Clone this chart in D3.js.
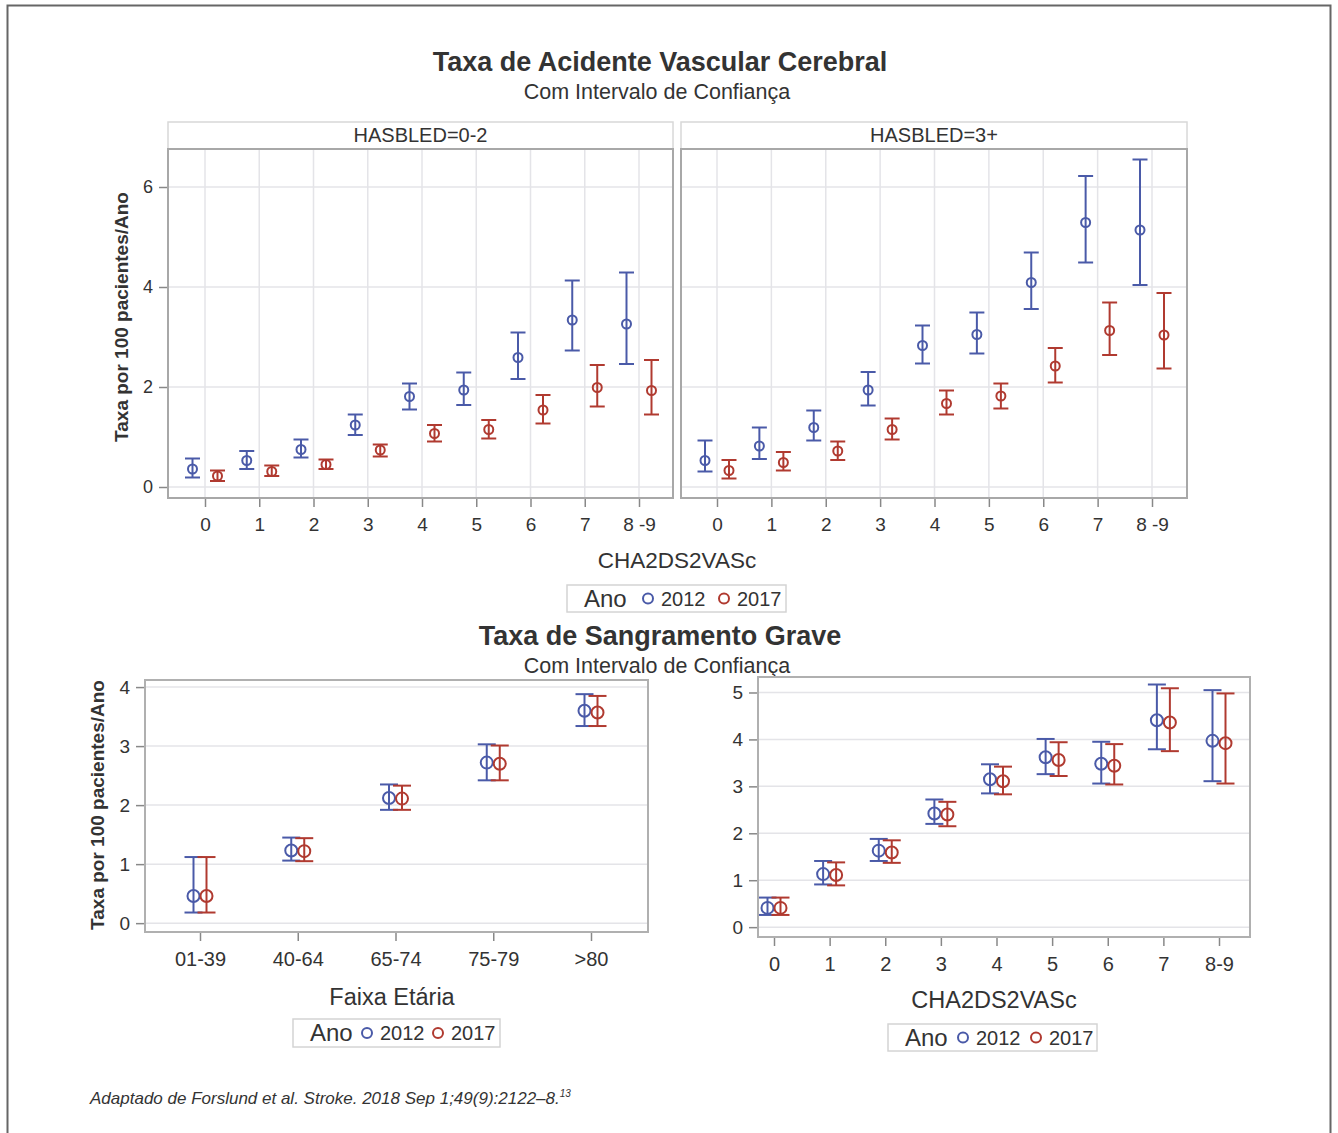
<!DOCTYPE html>
<html>
<head>
<meta charset="utf-8">
<script src="https://cdn.jsdelivr.net/npm/d3@7"></script>
<style>
  body { margin: 0; background: #fff; }
  text { font-family: "Liberation Sans", Arial, sans-serif; fill: #333; }
</style>
</head>
<body>
<script>
// categorias
var chaCatsTop = ["0", "1", "2", "3", "4", "5", "6", "7", "8 -9"];
var chaCatsBottom = ["0", "1", "2", "3", "4", "5", "6", "7", "8-9"];
var ageCats = ["01-39", "40-64", "65-74", "75-79", ">80"];
var years = ["2012", "2017"];

// AVC, HASBLED=0-2: [taxa, IC inf, IC sup]
var avcHb02_2012 = [[0.36,0.19,0.57],[0.53,0.36,0.72],[0.75,0.59,0.95],[1.24,1.04,1.45],[1.81,1.55,2.07],[1.94,1.64,2.29],[2.59,2.16,3.09],[3.34,2.73,4.13],[3.26,2.46,4.29]];
var avcHb02_2017 = [[0.22,0.12,0.33],[0.31,0.22,0.43],[0.45,0.36,0.55],[0.74,0.61,0.85],[1.07,0.91,1.24],[1.15,0.97,1.34],[1.54,1.27,1.84],[1.99,1.61,2.44],[1.93,1.45,2.54]];
// AVC, HASBLED=3+
var avcHb3_2012 = [[0.53,0.31,0.93],[0.82,0.56,1.19],[1.19,0.93,1.53],[1.94,1.63,2.30],[2.83,2.47,3.23],[3.05,2.67,3.49],[4.09,3.56,4.69],[5.29,4.49,6.22],[5.14,4.04,6.55]];
var avcHb3_2017 = [[0.33,0.17,0.54],[0.49,0.33,0.70],[0.72,0.54,0.91],[1.15,0.95,1.37],[1.67,1.45,1.93],[1.82,1.57,2.07],[2.42,2.09,2.78],[3.13,2.64,3.69],[3.04,2.37,3.88]];
// Sangramento grave por faixa etária
var sgAge_2012 = [[0.46,0.18,1.12],[1.23,1.06,1.45],[2.12,1.92,2.35],[2.72,2.42,3.03],[3.60,3.34,3.88]];
var sgAge_2017 = [[0.46,0.18,1.12],[1.22,1.05,1.44],[2.11,1.92,2.33],[2.70,2.42,3.01],[3.57,3.34,3.85]];
// Sangramento grave por CHA2DS2VASc
var sgCha_2012 = [[0.41,0.26,0.63],[1.13,0.91,1.41],[1.63,1.41,1.88],[2.42,2.20,2.72],[3.15,2.85,3.47],[3.62,3.26,4.01],[3.48,3.06,3.95],[4.41,3.79,5.17],[3.97,3.11,5.05]];
var sgCha_2017 = [[0.41,0.26,0.63],[1.11,0.89,1.38],[1.59,1.37,1.85],[2.40,2.15,2.67],[3.11,2.83,3.42],[3.56,3.22,3.94],[3.44,3.04,3.90],[4.36,3.75,5.09],[3.92,3.06,4.98]];

var colors = ["#4a5aa8", "#b03a30"];

var svg = d3.select("body").append("svg")
    .attr("width", 1338)
    .attr("height", 1133);

/* moldura externa */
svg.append("path")
    .attr("d", "M7.5,1133 V5.5 H1330.5 V1133")
    .attr("fill", "none")
    .attr("stroke", "#666")
    .attr("stroke-width", 2);

function txt(x, y, s, size, opts) {
    opts = opts || {};
    return svg.append("text")
        .attr("x", x).attr("y", y)
        .attr("text-anchor", opts.anchor || "middle")
        .attr("font-size", size)
        .attr("font-weight", opts.bold ? "bold" : null)
        .attr("font-style", opts.italic ? "italic" : null)
        .text(s);
}

// painel genérico com barras de erro
function panel(o) {
    var g = svg.append("g");
    var x = d3.scalePoint().domain(o.cats).range(o.xr);
    var y = d3.scaleLinear().domain(o.yd).range([o.y1, o.y0]);

    /* grade */
    g.selectAll(".hg").data(o.yTicks).enter().append("line")
        .attr("x1", o.x0).attr("x2", o.x1)
        .attr("y1", function(d) { return y(d); })
        .attr("y2", function(d) { return y(d); })
        .attr("stroke", "#e4e4e8").attr("stroke-width", 1.5);
    if (o.vgrid) {
        g.selectAll(".vg").data(o.cats).enter().append("line")
            .attr("x1", function(d) { return x(d); })
            .attr("x2", function(d) { return x(d); })
            .attr("y1", o.y0).attr("y2", o.y1)
            .attr("stroke", "#e4e4e8").attr("stroke-width", 1.5);
    }

    // eixo x
    var ax = g.append("g")
        .attr("transform", "translate(0," + o.y1 + ")")
        .call(d3.axisBottom(x).tickSize(9).tickPadding(11));
    ax.select(".domain").remove();
    ax.selectAll("line").attr("stroke", "#888").attr("stroke-width", 1.5);
    ax.selectAll("text").attr("font-size", o.xFont).attr("fill", "#333")
        .attr("font-family", "'Liberation Sans', Arial, sans-serif");

    // eixo y
    if (o.yAxis) {
        var ay = g.append("g")
            .attr("transform", "translate(" + o.x0 + ",0)")
            .call(d3.axisLeft(y).tickValues(o.yTicks).tickSize(9).tickPadding(6).tickFormat(d3.format("d")));
        ay.select(".domain").remove();
        ay.selectAll("line").attr("stroke", "#888").attr("stroke-width", 1.5);
        ay.selectAll("text").attr("font-size", o.yFont).attr("fill", "#333")
            .attr("font-family", "'Liberation Sans', Arial, sans-serif");
    }

    /* séries */
    o.series.forEach(function(data, i) {
        var dx = (i === 0 ? -1 : 1) * o.off;
        var s = g.append("g").attr("stroke", colors[i]).attr("stroke-width", o.sw).attr("fill", "none");
        var pts = s.selectAll("g").data(data).enter().append("g");
        pts.append("line")
            .attr("x1", function(d, j) { return x(o.cats[j]) + dx; })
            .attr("x2", function(d, j) { return x(o.cats[j]) + dx; })
            .attr("y1", function(d) { return y(d[1]); })
            .attr("y2", function(d) { return y(d[2]); });
        [1, 2].forEach(function(k) {
            pts.append("line")
                .attr("x1", function(d, j) { return x(o.cats[j]) + dx - o.cap / 2; })
                .attr("x2", function(d, j) { return x(o.cats[j]) + dx + o.cap / 2; })
                .attr("y1", function(d) { return y(d[k]); })
                .attr("y2", function(d) { return y(d[k]); });
        });
        pts.append("circle")
            .attr("cx", function(d, j) { return x(o.cats[j]) + dx; })
            .attr("cy", function(d) { return y(d[0]); })
            .attr("r", o.r);
    });

    // moldura
    g.append("rect")
        .attr("x", o.x0).attr("y", o.y0)
        .attr("width", o.x1 - o.x0).attr("height", o.y1 - o.y0)
        .attr("fill", "none").attr("stroke", o.frame || "#aaa").attr("stroke-width", 2);
    return g;
}

function legend(x0, y0, w, h, pos) {
    svg.append("rect").attr("x", x0).attr("y", y0).attr("width", w).attr("height", h)
        .attr("fill", "#fff").attr("stroke", "#d4d4d4").attr("stroke-width", 1.5);
    txt(x0 + 17, y0 + h / 2 + 8, "Ano", 24, {anchor: "start"});
    years.forEach(function(yr, i) {
        svg.append("circle").attr("cx", x0 + pos[i]).attr("cy", y0 + h / 2)
            .attr("r", 5).attr("fill", "none").attr("stroke", colors[i]).attr("stroke-width", 2);
        txt(x0 + pos[i] + 13, y0 + h / 2 + 7, yr, 20, {anchor: "start"});
    });
}

/* ---- Taxa de AVC ---- */
txt(660, 71, "Taxa de Acidente Vascular Cerebral", 27, {bold: true});
txt(657, 99, "Com Intervalo de Confiança", 21.5);

[[168, 673, "HASBLED=0-2"], [681, 1187, "HASBLED=3+"]].forEach(function(p) {
    svg.append("rect").attr("x", p[0]).attr("y", 122).attr("width", p[1] - p[0]).attr("height", 27)
        .attr("fill", "#fff").attr("stroke", "#d8d8d8").attr("stroke-width", 1.5);
    txt((p[0] + p[1]) / 2, 142, p[2], 20);
});

var topY = {y0: 149, y1: 498, yd: [-0.22, 6.76], yTicks: [0, 2, 4, 6]};
panel(Object.assign({}, topY, {x0: 168, x1: 673, xr: [205, 639], cats: chaCatsTop,
    series: [avcHb02_2012, avcHb02_2017], off: 12.5, cap: 15, r: 4.5, sw: 2,
    vgrid: true, yAxis: true, xFont: 19, yFont: 18, frame: "#a8a8a8"}));
panel(Object.assign({}, topY, {x0: 681, x1: 1187, xr: [717, 1152], cats: chaCatsTop,
    series: [avcHb3_2012, avcHb3_2017], off: 12, cap: 15, r: 4.5, sw: 2,
    vgrid: true, yAxis: false, xFont: 19, yFont: 18, frame: "#a8a8a8"}));

svg.append("text")
    .attr("transform", "translate(128,317) rotate(-90)")
    .attr("text-anchor", "middle").attr("font-size", 19).attr("font-weight", "bold")
    .text("Taxa por 100 pacientes/Ano");

txt(677, 568, "CHA2DS2VASc", 22.5);
legend(567, 585, 219, 27, [81, 157]);

/* ---- Taxa de Sangramento Grave ---- */
txt(660, 645, "Taxa de Sangramento Grave", 27, {bold: true});
txt(657, 673, "Com Intervalo de Confiança", 21.5);

panel({x0: 145, x1: 648, y0: 680, y1: 932, yd: [-0.15, 4.12], yTicks: [0, 1, 2, 3, 4],
    xr: [200, 591], cats: ageCats, series: [sgAge_2012, sgAge_2017],
    off: 6.5, cap: 18, r: 6, sw: 2, vgrid: false, yAxis: true, xFont: 20, yFont: 19, frame: "#b0b0b0"});
svg.append("text")
    .attr("transform", "translate(104,805) rotate(-90)")
    .attr("text-anchor", "middle").attr("font-size", 19).attr("font-weight", "bold")
    .text("Taxa por 100 pacientes/Ano");
txt(392, 1005, "Faixa Etária", 23.5);
legend(293, 1019, 207, 28, [74, 145]);

panel({x0: 758, x1: 1250, y0: 677, y1: 937, yd: [-0.21, 5.33], yTicks: [0, 1, 2, 3, 4, 5],
    xr: [774, 1219], cats: chaCatsBottom, series: [sgCha_2012, sgCha_2017],
    off: 6.5, cap: 18, r: 6, sw: 2, vgrid: false, yAxis: true, xFont: 20, yFont: 19, frame: "#b0b0b0"});
txt(994, 1008, "CHA2DS2VASc", 23.5);
legend(888, 1024, 209, 27, [75, 148]);

/* rodapé */
var foot = svg.append("text")
    .attr("x", 90).attr("y", 1104)
    .attr("font-size", 17).attr("font-style", "italic");
foot.append("tspan").text("Adaptado de Forslund et al. Stroke. 2018 Sep 1;49(9):2122\u20138.");
foot.append("tspan").attr("dy", -7).attr("font-size", 10).text("13");
</script>
</body>
</html>
